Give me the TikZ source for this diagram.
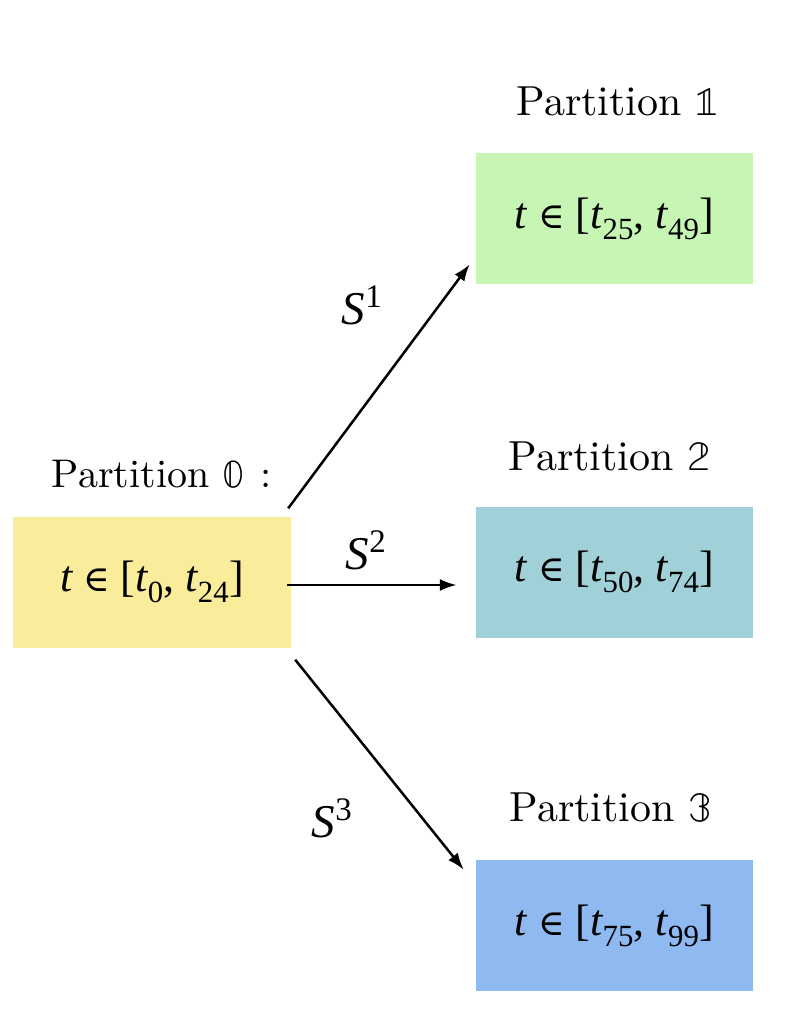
\documentclass[tikz,border=0pt]{standalone}
\usepackage{fontspec}
\usepackage{unicode-math}
\setmathfont{Latin Modern Math}
\newfontfamily\tms{Liberation Serif}
\newfontfamily\dvs{DejaVu Serif}
\newfontfamily\lmten{lmroman10-regular.otf}
\usetikzlibrary{arrows.meta}
\definecolor{cyel}{HTML}{F9EC9B}
\definecolor{cgrn}{HTML}{C7F5B3}
\definecolor{ctea}{HTML}{A1D1D8}
\definecolor{cblu}{HTML}{8FB9F1}
\newcommand\ti{{\itshape t}}
\newcommand\tsb[1]{\textsubscript{#1}}
\newcommand\rng[2]{\ti\ {\dvs\fontsize{36}{40}\selectfont ∈}\ [\ti\tsb{#1}, \ti\tsb{#2}]}
\tikzset{
  pbox/.style={minimum width=277pt, minimum height=131pt, inner sep=0pt, font=\fontsize{44}{52}\selectfont\tms},
  plabel/.style={inner sep=0pt, font=\fontsize{42}{50}\selectfont\lmten},
  slabel/.style={inner sep=0pt, font=\fontsize{47}{54}\selectfont\tms},
  arr/.style={line width=2.5pt, -{Latex[length=17pt,width=12pt]}}
}
\begin{document}
\begin{tikzpicture}[x=1pt,y=-1pt]
\useasboundingbox (0,0) rectangle (794,1018);
\node[pbox, fill=cyel, minimum width=278pt] (y) at (152,582) {\rng{0}{24}};
\node[pbox, fill=cgrn] (g) at (614.5,218.5) {\rng{25}{49}};
\node[pbox, fill=ctea] (t) at (614.5,572) {\rng{50}{74}};
\node[pbox, fill=cblu] (b) at (614.5,925.5) {\rng{75}{99}};
\node[plabel, font=\fontsize{40}{48}\selectfont\lmten] (ly) at (162,474) {Partition $\symbb{0}$\hspace{0.4em}:};
\node[plabel] (lg) at (618,101) {Partition $\symbb{1}$};
\node[plabel] (lt) at (610,456) {Partition $\symbb{2}$};
\node[plabel] (lb) at (611,808) {Partition $\symbb{3}$};
\draw[arr] ([shift={(-3,-8)}]y.north east) -- ([shift={(-6,-20)}]g.south west);
\draw[arr] ([shift={(-4,3)}]y.east) -- ([shift={(-19,13)}]t.west);
\draw[arr] ([shift={(4,12)}]y.south east) -- ([shift={(-12,10)}]b.north west);
\node[slabel] (s1) at (362,305) {{\itshape S}\textsuperscript{1}};
\node[slabel] (s2) at (366,550) {{\itshape S}\textsuperscript{2}};
\node[slabel] (s3) at (332,818) {{\itshape S}\textsuperscript{3}};
\end{tikzpicture}
\end{document}
